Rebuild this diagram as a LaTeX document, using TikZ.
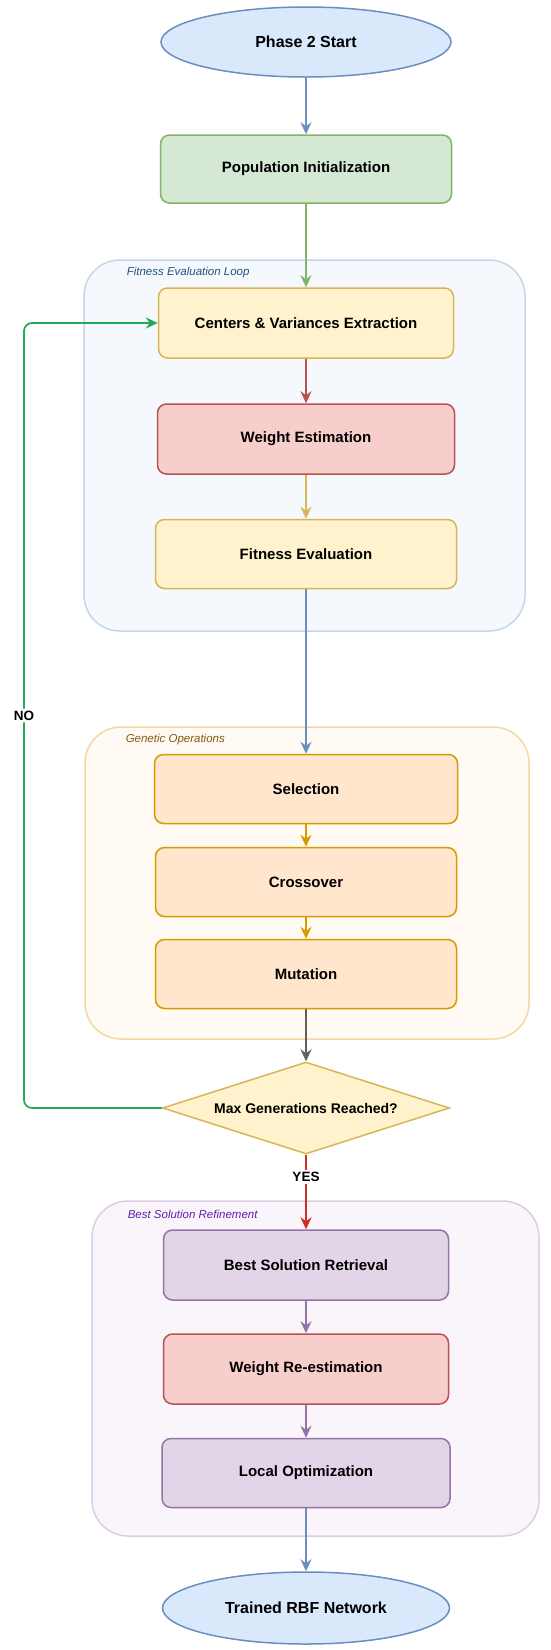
\documentclass[tikz,border=0pt]{standalone}
\usepackage{fontspec}
\setmainfont{Liberation Sans}
\usetikzlibrary{arrows.meta,shapes.geometric}
\definecolor{blueFill}{HTML}{DAE8FC}
\definecolor{blueLine}{HTML}{6C8EBF}
\definecolor{greenFill}{HTML}{D5E8D4}
\definecolor{greenLine}{HTML}{82B366}
\definecolor{yellowFill}{HTML}{FFF2CC}
\definecolor{yellowLine}{HTML}{D6B656}
\definecolor{redFill}{HTML}{F8CECC}
\definecolor{redLine}{HTML}{B85450}
\definecolor{orangeFill}{HTML}{FFE6CC}
\definecolor{orangeLine}{HTML}{D79B00}
\definecolor{purpleFill}{HTML}{E1D5E7}
\definecolor{purpleLine}{HTML}{9673A6}
\definecolor{loopFill}{HTML}{F5F9FE}
\definecolor{loopLine}{HTML}{C5D6EC}
\definecolor{loopText}{HTML}{23527C}
\definecolor{gaFill}{HTML}{FFFAF3}
\definecolor{gaLine}{HTML}{F2D9A2}
\definecolor{gaText}{HTML}{805A10}
\definecolor{refFill}{HTML}{F9F5FB}
\definecolor{refLine}{HTML}{DCCCE5}
\definecolor{refText}{HTML}{5A22A8}
\definecolor{noLine}{HTML}{22AA55}
\definecolor{yesLine}{HTML}{CC2E25}
\definecolor{grayLine}{HTML}{5F5F5F}

\begin{document}
\begin{tikzpicture}[x=1pt, y=-1pt,
  every node/.style={line width=1.5pt, font=\bfseries\fontsize{15}{18}\selectfont},
  box/.style={draw, rectangle, rounded corners=9pt, minimum height=69pt},
  terminal/.style={draw=blueLine, fill=blueFill, ellipse, minimum height=70pt, font=\bfseries\fontsize{16}{19}\selectfont},
  initbox/.style={box, draw=greenLine, fill=greenFill},
  yellowbox/.style={box, draw=yellowLine, fill=yellowFill},
  redbox/.style={box, draw=redLine, fill=redFill},
  orangebox/.style={box, draw=orangeLine, fill=orangeFill, minimum width=301pt},
  purplebox/.style={box, draw=purpleLine, fill=purpleFill},
  decision/.style={diamond, draw=yellowLine, fill=yellowFill, aspect=3.1, inner sep=0pt, minimum width=287pt, minimum height=92pt, font=\bfseries\fontsize{14}{17}\selectfont},
  group/.style={draw, rectangle, rounded corners=36pt},
  grouplabel/.style={anchor=west, inner sep=0pt, font=\itshape\fontsize{11.5}{14}\selectfont},
  answer/.style={fill=white, text=black, inner sep=2pt, font=\bfseries\fontsize{13.5}{16}\selectfont},
  link/.style={line width=1.7pt, -{Stealth[length=12pt, width=11pt, inset=4pt]}}
]
\useasboundingbox (0,0) rectangle (550,1650);

\node[group, draw=loopLine, fill=loopFill, minimum width=441pt, minimum height=371pt] (fitloop) at (304.5,445.5) {};
\node[group, draw=gaLine, fill=gaFill, minimum width=444pt, minimum height=312pt] (genops) at (307,883) {};
\node[group, draw=refLine, fill=refFill, minimum width=447pt, minimum height=335pt] (refine) at (315.5,1368.5) {};
\node[grouplabel, text=loopText] (fitlooplabel) at (126,273) {Fitness Evaluation Loop};
\node[grouplabel, text=gaText] (genopslabel) at (125,740) {Genetic Operations};
\node[grouplabel, text=refText] (refinelabel) at (127,1214) {Best Solution Refinement};

\node[terminal, minimum width=290pt] (start) at (306,42) {Phase 2 Start};
\node[initbox, minimum width=291pt, minimum height=68pt] (popinit) at (306,169) {Population Initialization};
\node[yellowbox, minimum width=295pt, minimum height=70pt] (cvext) at (306,323) {Centers \& Variances Extraction};
\node[redbox, minimum width=297pt, minimum height=70pt] (westim) at (306,439) {Weight Estimation};
\node[yellowbox, minimum width=301pt] (fiteval) at (306,554) {Fitness Evaluation};
\node[orangebox, minimum width=303pt] (select) at (306,789) {Selection};
\node[orangebox] (cross) at (306,882) {Crossover};
\node[orangebox] (mutate) at (306,974) {Mutation};
\node[decision] (maxgen) at (306,1108) {Max Generations Reached?};
\node[purplebox, minimum width=285pt, minimum height=70pt] (bestsol) at (306,1265) {Best Solution Retrieval};
\node[redbox, minimum width=285pt, minimum height=70pt] (wreest) at (306,1369) {Weight Re-estimation};
\node[purplebox, minimum width=288pt] (localopt) at (306,1473) {Local Optimization};
\node[terminal, minimum width=287pt, minimum height=72pt] (rbfnet) at (306,1608) {Trained RBF Network};

\draw[link, blueLine] (start) -- (popinit);
\draw[link, greenLine] (popinit) -- (cvext);
\draw[link, redLine] (cvext) -- (westim);
\draw[link, yellowLine] (westim) -- (fiteval);
\draw[link, blueLine] (fiteval) -- (select);
\draw[link, orangeLine] (select) -- (cross);
\draw[link, orangeLine] (cross) -- (mutate);
\draw[link, grayLine] (mutate) -- (maxgen);
\draw[link, yesLine] (maxgen) -- node[answer, pos=0.3] {YES} (bestsol);
\draw[link, purpleLine] (bestsol) -- (wreest);
\draw[link, purpleLine] (wreest) -- (localopt);
\draw[link, blueLine] (localopt) -- (rbfnet);

\coordinate (noturn) at (24,0);
\draw[link, noLine, rounded corners=8pt] (maxgen.west) -- (maxgen.west -| noturn) -- node[answer] {NO} (cvext.west -| noturn) -- (cvext.west);
\end{tikzpicture}
\end{document}
